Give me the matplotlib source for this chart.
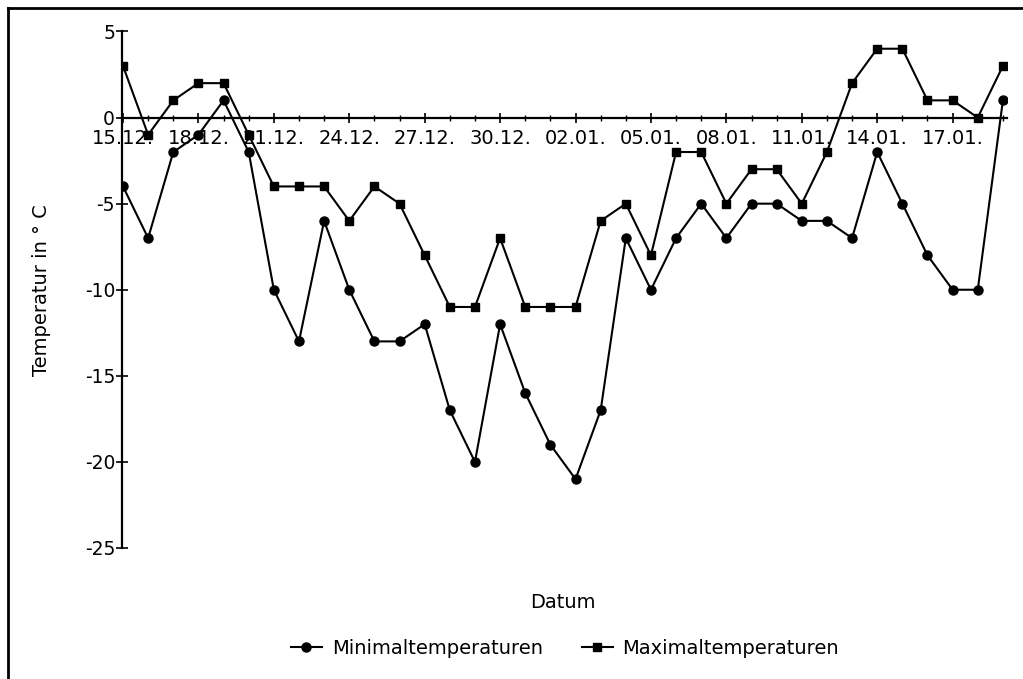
import matplotlib
matplotlib.use("Agg")
import matplotlib.pyplot as plt
from matplotlib.lines import Line2D

plt.rcParams['font.family'] = ['DejaVu Sans']

days = list(range(36))
tick_labels = ["15.12.", "18.12.", "21.12.", "24.12.", "27.12.", "30.12.",
               "02.01.", "05.01.", "08.01.", "11.01.", "14.01.", "17.01."]
min_temp = [-4, -7, -2, -1, 1, -2, -10, -13, -6, -10, -13, -13,
            -12, -17, -20, -12, -16, -19, -21, -17, -7, -10, -7, -5,
            -7, -5, -5, -6, -6, -7, -2, -5, -8, -10, -10, 1]
max_temp = [3, -1, 1, 2, 2, -1, -4, -4, -4, -6, -4, -5,
            -8, -11, -11, -7, -11, -11, -11, -6, -5, -8, -2, -2,
            -5, -3, -3, -5, -2, 2, 4, 4, 1, 1, 0, 3]

W, H = 1023, 679
fig = plt.figure(figsize=(W/100, H/100), dpi=100)
left = 122/W
bottom = 1 - 548/H
height = (548 - 31.5)/H
x0, x1 = -0.04, 35.15
width = (x1 - x0) * 25.14 / W
ax = fig.add_axes([left, bottom, width, height])

l1, = ax.plot(days, min_temp, color='black', lw=1.5, marker='o', ms=6.5,
              label='Minimaltemperaturen')
l2, = ax.plot(days, max_temp, color='black', lw=1.5, marker='s', ms=5.5,
              label='Maximaltemperaturen')

ax.set_xlim(x0, x1)
ax.set_ylim(-25, 5)
ax.spines['top'].set_visible(False)
ax.spines['right'].set_visible(False)
ax.spines['bottom'].set_position(('data', 0))
ax.spines['left'].set_linewidth(1.6)
ax.spines['bottom'].set_linewidth(1.6)

ax.set_xticks(days[::3])
ax.set_xticklabels(tick_labels)
ax.set_xticks(days, minor=True)
ax.tick_params(axis='x', which='major', direction='inout', length=7, width=1.2,
               labelsize=14, pad=4.5)
ax.tick_params(axis='x', which='minor', direction='inout', length=5, width=1.0)
ax.set_yticks([5, 0, -5, -10, -15, -20, -25])
ax.set_yticklabels(['5', '0', '-5', '-10', '-15', '-20', '-25'])
ax.tick_params(axis='y', direction='inout', length=8, width=1.2, labelsize=13.5, pad=1)

fig.text(42/W, 1 - 290/H, 'Temperatur in ° C', rotation=90, ha='center', va='center',
         fontsize=14)
fig.text(563/W, 1 - 603/H, 'Datum', ha='center', va='center', fontsize=14)

fig.legend(handles=[l1, l2], loc='center', bbox_to_anchor=(565/W, 1 - 648/H),
           ncol=2, frameon=False, fontsize=14, handlelength=1.6, columnspacing=2.0,
           handletextpad=0.5)

# figure border (left and top)
fig.add_artist(Line2D([8/W, 8/W], [0, 1 - 8/H], transform=fig.transFigure,
                      color='black', lw=2))
fig.add_artist(Line2D([8/W, 1], [1 - 8/H, 1 - 8/H], transform=fig.transFigure,
                      color='black', lw=2))

fig.savefig('out.png', dpi=100)
